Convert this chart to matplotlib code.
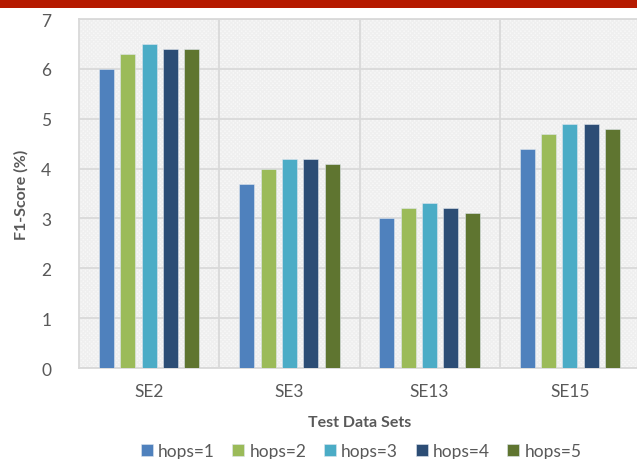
import matplotlib
matplotlib.use("Agg")
from matplotlib import pyplot as plt
from matplotlib.patches import Rectangle
import numpy as np

plt.rcParams['font.family'] = ['Lato', 'DejaVu Sans']

datasets = ['SE2', 'SE3', 'SE13', 'SE15']
series = ['hops=1', 'hops=2', 'hops=3', 'hops=4', 'hops=5']
hops1 = [6.0, 3.7, 3.0, 4.4]
hops2 = [6.3, 4.0, 3.2, 4.7]
hops3 = [6.5, 4.2, 3.3, 4.9]
hops4 = [6.4, 4.2, 3.2, 4.9]
hops5 = [6.4, 4.1, 3.1, 4.8]
values = [hops1, hops2, hops3, hops4, hops5]
colors = ['#4F81BD', '#9BBB59', '#4BACC6', '#2C4D75', '#5F7530']

fig = plt.figure(figsize=(6.37, 4.6), dpi=100)
ax = fig.add_axes([79/637, 1 - 369/460, 561/637, 349/460])

# red band at top
fig.patches.append(Rectangle((0, 1 - 8.5/460), 1, 8.5/460, transform=fig.transFigure,
                             facecolor='#B51A00', edgecolor='none', zorder=5))

ax.set_facecolor('#f8f8f8')
ax.add_patch(Rectangle((0, 0), 1, 1, transform=ax.transAxes, facecolor='none',
                       edgecolor='#efefef', hatch='xxxxxxxx', linewidth=0, zorder=0))

x = np.arange(len(datasets))
pitch = 0.152
width = 0.107
for i, (name, vals) in enumerate(zip(series, values)):
    ax.bar(x + (i - 2) * pitch, vals, width, color=colors[i], label=name,
           edgecolor='#dfe6ee', linewidth=0.4, zorder=3)

ax.set_xlim(-0.5, 3.5)
ax.set_ylim(0, 7)
ax.set_yticks(range(8))
ax.set_xticks(x)
ax.set_xticklabels(datasets)
ax.yaxis.grid(True, color='#d9d9d9', linewidth=1.3, zorder=1)
for b in [0.5, 1.5, 2.5]:
    ax.axvline(b, color='#d9d9d9', linewidth=1.3, zorder=1)
for s in ['left', 'top', 'bottom']:
    ax.spines[s].set_color('#d9d9d9')
    ax.spines[s].set_linewidth(1.3)
ax.spines['right'].set_visible(False)
ax.tick_params(axis='both', length=0, labelsize=12.5, labelcolor='#595959')
ax.tick_params(axis='y', pad=20)
ax.tick_params(axis='x', pad=11)
ax.set_ylabel('F1-Score (%)', fontsize=11.5, fontweight='bold', color='#595959', labelpad=9)
ax.set_xlabel('Test Data Sets', fontsize=11.5, fontweight='bold', color='#595959', labelpad=11)

ax.legend(loc='center', bbox_to_anchor=(0.503, -0.238), ncol=5, frameon=False,
          fontsize=12.5, labelcolor='#595959', handlelength=0.7, handleheight=0.7,
          handletextpad=0.3, columnspacing=1.0)

fig.savefig('out.png', dpi=100)
